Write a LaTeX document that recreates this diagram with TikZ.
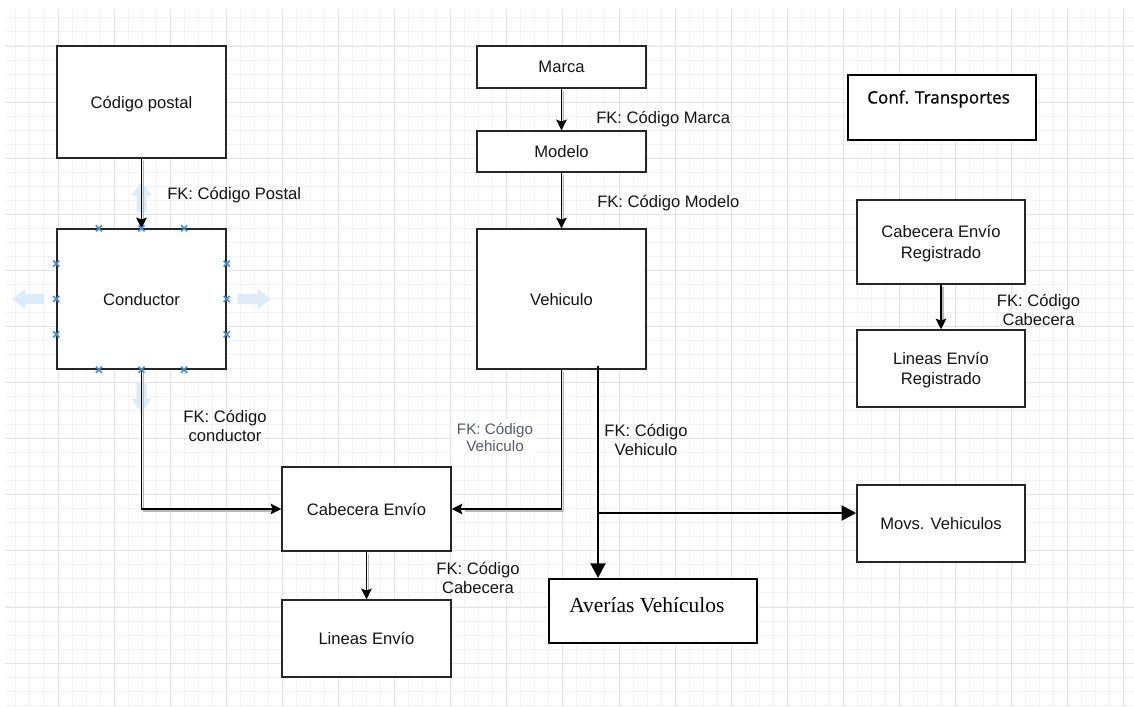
\documentclass[tikz,border=0pt]{standalone}
\usepackage{fontspec}
\setmainfont{Liberation Sans}
\newfontfamily\serifface{Liberation Serif}
\newfontfamily\confface[FakeBold=0.8]{Open Sans}
\usetikzlibrary{arrows.meta,calc}

\definecolor{ink}{HTML}{141414}
\definecolor{boxline}{HTML}{262626}
\definecolor{gridminor}{HTML}{F3F3F3}
\definecolor{gridmajor}{HTML}{E4E4E4}
\definecolor{markblue}{HTML}{3D8FD9}
\definecolor{hoverblue}{HTML}{DCEBF8}
\definecolor{fadedink}{HTML}{55596A}

\newcommand{\mainsz}{\fontsize{12.45pt}{14.3pt}\selectfont}

\begin{document}
\begin{tikzpicture}[x=0.75pt,y=-0.75pt,
  box/.style={draw=boxline, line width=1.1pt, fill=white, inner sep=0pt,
    minimum width=126.75pt, font=\mainsz, text=ink, align=center, text depth=0pt},
  heavybox/.style={draw=black, line width=1.5pt, fill=white, inner sep=0pt},
  lbl/.style={font=\mainsz, text=ink, inner sep=0pt, align=center, text depth=0pt},
  fk/.style={line width=1.1pt, draw=black,
    -{Stealth[length=8pt,width=8pt,inset=1.5pt]}},
  fkshadow/.style={line width=1.1pt, draw=black!28, shorten >=8pt,
    transform canvas={shift={(1.6pt,-1.6pt)}}},
  heavy/.style={line width=2.2pt, draw=black,
    -{Triangle[length=11pt,width=11pt]}},
  gminor/.style={draw=gridminor, line width=0.75pt},
  gmajor/.style={draw=gridmajor, line width=0.75pt},
  marker/.style={draw=markblue, line width=1.2pt},
  hover/.style={fill=hoverblue}
]
\useasboundingbox (0,0) rectangle (1134,707);
\fill[white] (0,0) rectangle (1134,707);

% background grid
\begin{scope}
  \clip (5,9) rectangle (1134,707);
  \foreach \i in {1,...,80}
    \draw[gminor] ({1.9+14.025*\i},9) -- ({1.9+14.025*\i},707);
  \foreach \j in {1,...,50}
    \draw[gminor] (5,{3.9+14.025*\j}) -- (1134,{3.9+14.025*\j});
  \foreach \i in {0,...,19}
    \draw[gmajor] ({58+56.1*\i},9) -- ({58+56.1*\i},707);
  \foreach \j in {0,...,11}
    \draw[gmajor] (5,{46+56.1*\j}) -- (1134,{46+56.1*\j});
\end{scope}

% tables
\node[box, minimum height=84pt] (cp) at (141.5,102) {Código postal};
\node[box, minimum height=105pt] (cond) at (141.5,299) {Conductor};
\node[box, minimum height=31.5pt] (marca) at (561.5,67) {Marca};
\node[box, minimum height=30.75pt] (modelo) at (561.5,151.5) {Modelo};
\node[box, minimum height=105pt] (veh) at (561.5,299) {Vehiculo};
\node[box, minimum height=63pt] (cab) at (366.5,509) {Cabecera Envío};
\node[box, minimum height=57.75pt] (lin) at (366.5,638.5) {Lineas Envío};
\node[box, minimum width=126pt, minimum height=57.75pt] (movs) at (941,523.5) {Movs. Vehiculos};
\node[box, minimum width=126pt, minimum height=63pt] (cabreg) at (941,242) {Cabecera Envío\\[1pt]Registrado};
\node[box, minimum width=126pt, minimum height=57.75pt] (linreg) at (941,368.5) {Lineas Envío\\[1pt]Registrado};
\node[heavybox, minimum width=156pt, minimum height=48pt] (aver) at (653,611) {};
\node[heavybox, minimum width=141pt, minimum height=48.75pt] (conf) at (942,107.5) {};
\node[anchor=west, inner sep=0pt, text=black,
  font=\serifface\fontsize{16.1pt}{18pt}\selectfont] (avertext) at (569,605) {Averías Vehículos};
\node[anchor=west, inner sep=0pt, text=black,
  font=\confface\fontsize{12.8pt}{15pt}\selectfont] (conftext) at (867,99) {Conf. Transportes};

% connection hints around the selected table
\begin{scope}[shift={(cond.north)}]
  \fill[hover] (0,-46) -- (10,-33) -- (5,-33) -- (5,-16) -- (-5,-16) -- (-5,-33) -- (-10,-33) -- cycle;
\end{scope}
\begin{scope}[shift={(cond.south)}]
  \fill[hover] (0,43) -- (10,29) -- (5,29) -- (5,12) -- (-5,12) -- (-5,29) -- (-10,29) -- cycle;
\end{scope}
\begin{scope}[shift={(cond.west)}]
  \fill[hover] (-44,0) -- (-31,-10) -- (-31,-5) -- (-12,-5) -- (-12,5) -- (-31,5) -- (-31,10) -- cycle;
\end{scope}
\begin{scope}[shift={(cond.east)}]
  \fill[hover] (44,0) -- (31,-10) -- (31,-5) -- (11,-5) -- (11,5) -- (31,5) -- (31,10) -- cycle;
\end{scope}

% foreign-key connectors
\draw[fkshadow] (cp.south) -- (cond.north);
\draw[fk] (cp.south) -- (cond.north);
\draw[fkshadow] (marca.south) -- (modelo.north);
\draw[fk] (marca.south) -- (modelo.north);
\draw[fkshadow] (modelo.south) -- (veh.north);
\draw[fk] (modelo.south) -- (veh.north);
\draw[fkshadow] (cond.south) |- (cab.west);
\draw[fk] (cond.south) |- (cab.west);
\draw[fkshadow] (veh.south) |- (cab.east);
\draw[fk] (veh.south) |- (cab.east);
\draw[fkshadow] (cab.south) -- (lin.north);
\draw[fk] (cab.south) -- (lin.north);
\draw[fkshadow] (cabreg.south) -- (linreg.north);
\draw[fk] (cabreg.south) -- (linreg.north);

% vehicle links drawn with heavy lines
\coordinate (vtap) at (598,366);
\coordinate (fork) at (598,513);
\draw[heavy] (vtap) -- (vtap |- aver.north);
\draw[heavy] (fork) -- (fork -| movs.west);

% connection points of the selected table
\foreach \a/\b in {north west/north east, south west/south east, north west/south west, north east/south east}
  \foreach \t in {0.25,0.5,0.75}
    \draw[marker] ($(cond.\a)!\t!(cond.\b)$) +(-3,-3) -- +(3,3)
                  ($(cond.\a)!\t!(cond.\b)$) +(-3,3) -- +(3,-3);

% connector labels
\node[lbl, anchor=west] (lcp) at (167,193) {FK: Código Postal};
\node[lbl] (lcond) at (225,426) {FK: Código\\conductor};
\node[lbl, anchor=west] (lmarca) at (596,117) {FK: Código Marca};
\node[lbl, anchor=west] (lmodelo) at (597,201) {FK: Código Modelo};
\node[lbl, fill=white, inner sep=3pt, text=fadedink,
  font=\fontsize{11.4pt}{12.8pt}\selectfont] (lvehcab) at (495,437) {FK: Código\\Vehiculo};
\node[lbl] (lveh) at (646,440) {FK: Código\\Vehiculo};
\node[lbl] (lcab) at (478,578) {FK: Código\\Cabecera};
\node[lbl] (lcabreg) at (1038.5,309.5) {FK: Código\\Cabecera};
\end{tikzpicture}
\end{document}
